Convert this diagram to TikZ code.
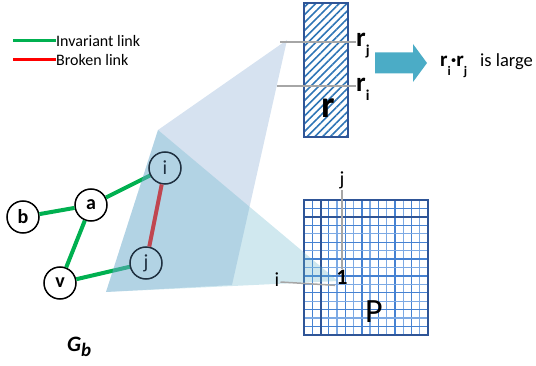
\documentclass[tikz,border=0pt]{standalone}
\usepackage{fontspec}
\setmainfont{Carlito}
\usepackage{tikz}
\usetikzlibrary{positioning, calc, patterns.meta}
\definecolor{linkgreen}{RGB}{0, 176, 80}
\definecolor{linkred}{RGB}{192, 70, 80}
\definecolor{vecblue}{RGB}{47, 85, 151}
\definecolor{hatchblue}{RGB}{46, 117, 182}
\definecolor{gridlight}{RGB}{125, 170, 228}
\definecolor{griddark}{RGB}{70, 130, 210}
\definecolor{arrowteal}{RGB}{75, 172, 198}
\definecolor{projA}{RGB}{118, 158, 205}
\definecolor{projB}{RGB}{98, 178, 202}
\definecolor{guide}{RGB}{166, 166, 166}
\definecolor{navy}{RGB}{31, 48, 64}

% lowered subscript: size, drop, text
\newcommand{\lsub}[3]{\raisebox{-#2}{\fontsize{#1}{#1}\selectfont #3}}

\tikzset{
  vtx/.style={circle, draw=black, line width=1.5pt, fill=white, minimum size=32pt, inner sep=0pt, font=\bfseries\fontsize{20}{20}\selectfont},
  hidvtx/.style={circle, draw=navy, text=navy, line width=1.5pt, minimum size=32pt, inner sep=0pt, font=\fontsize{20}{20}\selectfont},
  invlink/.style={linkgreen, line width=4pt},
  brklink/.style={linkred, line width=4pt},
  guideline/.style={guide, line width=1.5pt},
  lbl/.style={inner sep=1pt, font=\fontsize{20}{20}\selectfont}
}

\begin{document}
\begin{tikzpicture}[x=1pt, y=-1pt]
  \useasboundingbox (0,0) rectangle (536,366);

  % legend
  \node[anchor=west, inner sep=0pt, font=\fontsize{16}{16}\selectfont] (invtxt) at (56,41) {Invariant link};
  \node[anchor=west, inner sep=0pt, font=\fontsize{16}{16}\selectfont] (brktxt) at (56,60) {Broken link};
  \coordinate (inv0) at (13,41);
  \coordinate (brk0) at (13,60);
  \draw[linkgreen, line width=3pt] (inv0) -- (invtxt.west);
  \draw[red, line width=3pt] (brk0) -- (brktxt.west);

  % graph G_b
  \node[vtx] (b) at (23,217) {b};
  \node[vtx] (a) at (91,205) {a};
  \node[vtx] (v) at (60,283) {v};
  \coordinate (i) at (165,168);
  \coordinate (j) at (146,263);
  \draw[invlink, shorten >=16pt] (a) -- (i);
  \draw[invlink, shorten >=16pt] (v) -- (j);
  \draw[invlink] (b) -- (a);
  \draw[invlink] (a) -- (v);
  \node[anchor=base west, inner sep=0pt, font=\bfseries\itshape\fontsize{22}{22}\selectfont] (gb) at (67,352) {G\lsub{19}{5pt}{b}};

  % matrix P
  \node[minimum width=124pt, minimum height=135pt, inner sep=0pt, fill=white] (pmat) at (366,267.5) {};
  \foreach \k in {1,...,14}{
    \ifodd\k \def\gc{griddark}\else\def\gc{gridlight}\fi
    \draw[\gc, line width=1.3pt] ({304+\k*124/15},200) -- ({304+\k*124/15},335);
  }
  \foreach \k in {1,...,15}{
    \ifodd\k \def\gc{griddark}\else\def\gc{gridlight}\fi
    \draw[\gc, line width=1.3pt] (304,{200+\k*135/16}) -- (428,{200+\k*135/16});
  }
  \draw[vecblue, line width=2pt] (320.5,200) -- (320.5,335);
  \draw[vecblue, line width=2pt] (304,216.9) -- (428,216.9);
  \draw[vecblue, line width=2pt] (pmat.north west) rectangle (pmat.south east);

  % projections
  \fill[projA, fill opacity=0.3] (287,40) -- (158,130) -- (106,292) -- (232,285) -- cycle;
  \fill[projB, fill opacity=0.3] (158,130) -- (106,292) -- (338,281) -- cycle;

  % nodes under the projection
  \node[hidvtx] (ni) at (i) {i};
  \node[hidvtx] (nj) at (j) {j};
  \draw[brklink] (ni) -- (nj);

  % vector r
  \node[draw=vecblue, line width=2pt, pattern={Lines[angle=45, distance=5.5pt, line width=1.6pt]}, pattern color=hatchblue, minimum width=44pt, minimum height=134pt, inner sep=0pt] (rvec) at (326,70) {};
  \node[anchor=base, inner sep=0pt, font=\bfseries\fontsize{38}{38}\selectfont] (rbig) at (328,118) {r};
  \node[anchor=base west, inner sep=0pt, font=\bfseries\fontsize{27}{27}\selectfont] (rj) at (356,47) {r\lsub{15}{9pt}{j}};
  \node[anchor=base west, inner sep=0pt, font=\bfseries\fontsize{27}{27}\selectfont] (ri) at (356,92) {r\lsub{15}{9pt}{i}};
  \coordinate (rj0) at (280,42);
  \coordinate (ri0) at (277,86);
  \draw[guideline] (rj0) -- (rj0 -| rj.west);
  \draw[guideline] (ri0) -- (ri0 -| ri.west);

  % result
  \fill[arrowteal] (375,52.5) -- (413,52.5) -- (413,44) -- (427,63) -- (413,82) -- (413,73.5) -- (375,73.5) -- cycle;
  \node[anchor=base west, inner sep=0pt, font=\fontsize{18.5}{18.5}\selectfont] (res) at (440,67) {{\bfseries\fontsize{21}{21}\selectfont r\lsub{13}{9pt}{i}·r\lsub{13}{9pt}{j}}\hspace{0.7em}is large};

  % entry of P
  \node[lbl] (jtop) at (342,180) {j};
  \node[lbl] (ilft) at (277,280) {i};
  \node[lbl, font=\bfseries\fontsize{22}{22}\selectfont] (one) at (342,277) {1};
  \node[font=\fontsize{34}{34}\selectfont, inner sep=0pt] (plbl) at (374,312) {P};
  \draw[guideline] (jtop.south) -- (one.north);
  \draw[guideline] (ilft.east |- 0,282) -- (one.south west);
\end{tikzpicture}
\end{document}
